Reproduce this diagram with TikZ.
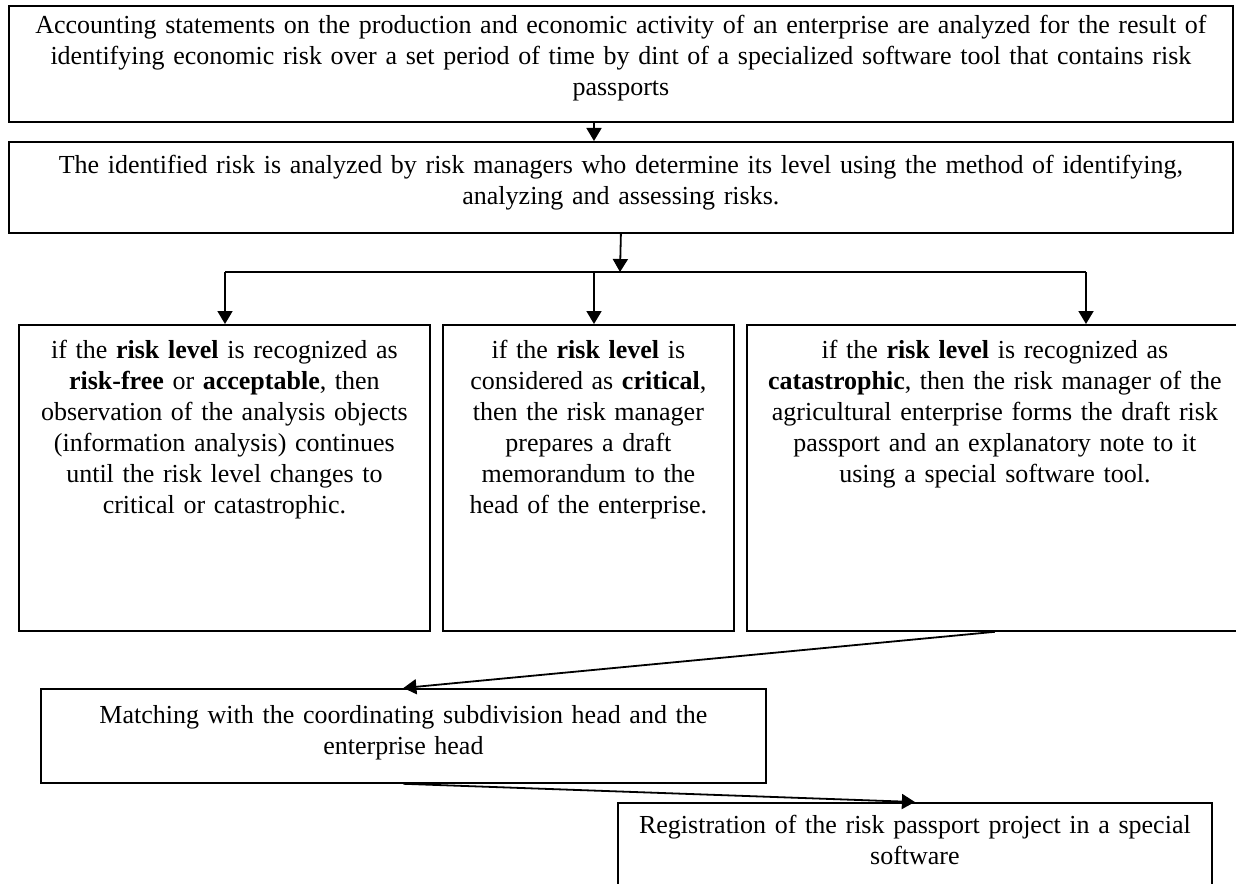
\documentclass[tikz,border=0pt]{standalone}
\usepackage{fontspec}
\setmainfont{Liberation Serif}
\usepackage{tikz}
\usetikzlibrary{arrows.meta, positioning}

\begin{document}
\begin{tikzpicture}[x=0.5pt, y=-0.5pt,
    box/.style={draw, line width=0.9pt, anchor=north west, align=center, inner xsep=0pt, inner ysep=0pt,
      font=\fontsize{13pt}{15.5pt}\selectfont},
    arr/.style={line width=0.9pt, -{Triangle[length=6.5pt, width=7.5pt]}}]
      \useasboundingbox (0,0) rectangle (1236,883);
      \node[box, text width=612pt, text height=14pt, text depth=44pt] (acc) at (8,5)
        {Accounting statements on the production and economic activity of an enterprise are analyzed for the result of\\
         identifying economic risk over a set period of time by dint of a specialized software tool that contains risk\\
         passports};
      \node[box, text width=612pt, text height=16pt, text depth=29.5pt] (ana) at (8,141)
        {The identified risk is analyzed by risk managers who determine its level using the method of identifying,\\
         analyzing and assessing risks.};
      \node[box, text width=205.5pt, text height=17pt, text depth=136pt] (free) at (18,324)
        {if the \textbf{risk level} is recognized as\\ \textbf{risk-free} or \textbf{acceptable}, then\\
         observation of the analysis objects\\ (information analysis) continues\\
         until the risk level changes to\\ critical or catastrophic.};
      \node[box, text width=145.5pt, text height=17pt, text depth=136pt] (crit) at (442,324)
        {if the \textbf{risk level} is\\ considered as \textbf{critical},\\ then the risk manager\\
         prepares a draft\\ memorandum to the\\ head of the enterprise.};
      \node[box, text width=248pt, text height=17pt, text depth=136pt] (cat) at (746,324)
        {if the \textbf{risk level} is recognized as\\ \textbf{catastrophic}, then the risk manager of the\\
         agricultural enterprise forms the draft risk\\ passport and an explanatory note to it\\
         using a special software tool.};
      \node[box, text width=362.5pt, text height=17.5pt, text depth=29.5pt] (match) at (40,688)
        {Matching with the coordinating subdivision head and the\\ enterprise head};
      \node[box, text width=297pt, text height=15.5pt, text depth=31.5pt] (reg) at (617,802)
        {Registration of the risk passport project in a special\\ software};
      \coordinate (fork) at (620,272);
      \coordinate (fl) at (225,272);
      \coordinate (fm) at (594,272);
      \coordinate (fr) at (1086,272);
      \draw[arr] (acc.south -| fm) -- (ana.north -| fm);
      \draw[arr] (ana.south) -- (fork);
      \draw[line width=0.9pt] (fl) -- (fr);
      \draw[arr] (fl) -- (fl |- free.north);
      \draw[arr] (fm) -- (fm |- crit.north);
      \draw[arr] (fr) -- (fr |- cat.north);
      \draw[arr] (cat.south) -- (match.north);
      \draw[arr] (match.south) -- (reg.north);
    \end{tikzpicture}
\end{document}
